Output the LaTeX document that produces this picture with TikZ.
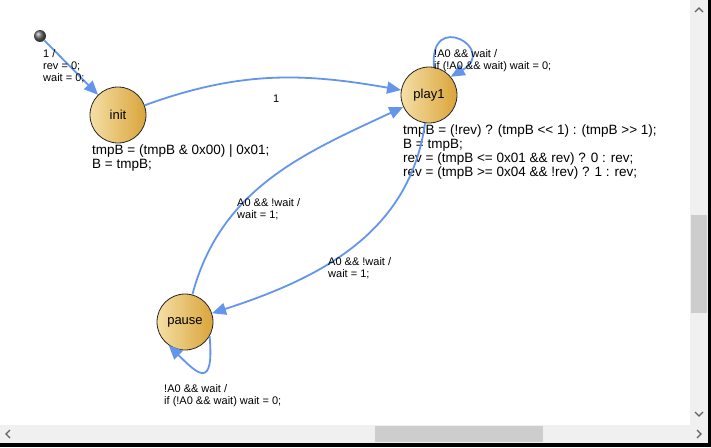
\documentclass[tikz,border=0pt]{standalone}
\usepackage{fontspec}
\setmainfont{Liberation Sans}[Ligatures=TeXOff]
\usetikzlibrary{arrows.meta,positioning,calc}
\definecolor{edgeblue}{HTML}{6495ED}
\definecolor{stategold}{HTML}{D9A43A}
\definecolor{statelight}{HTML}{F5DFA6}
\definecolor{scrolltrack}{HTML}{F0F0F0}
\definecolor{scrollthumb}{HTML}{CDCDCD}
\definecolor{scrollglyph}{HTML}{606060}

\begin{document}
\begin{tikzpicture}[x=1pt,y=1pt,
  statenode/.style={circle, draw=black!85, line width=0.8pt, minimum size=56pt, inner sep=0pt,
                    left color=statelight, right color=stategold, font=\fontsize{13}{15}\selectfont},
  startnode/.style={circle, inner sep=0pt, minimum size=12pt, ball color=black!60},
  code/.style={anchor=base west, inner sep=0pt, align=left, font=\fontsize{13.5}{14.3}\selectfont},
  lbl/.style={anchor=base west, inner sep=0pt, align=left, font=\fontsize{11}{12}\selectfont},
  arr/.style={-{Triangle[length=14pt,width=12pt]}, line width=1.8pt, draw=edgeblue},
  glyph/.style={draw=scrollglyph, line width=1.1pt}
]
  \useasboundingbox (0,0) rectangle (711,-447);

  % states
  \node[startnode] (start) at (40,-36) {};
  \node[statenode] (init) at (118,-115) {init};
  \node[statenode] (play1) at (429,-95) {play1};
  \node[statenode] (pause) at (185,-322) {pause};

  % state actions (placed at the baseline of the last line)
  \node[code] (initact) at (92,-168.3) {tmpB = (tmpB \& 0x00) | 0x01;\\B = tmpB;};
  \node[code] (playact) at (403,-176.9) {tmpB = (!rev) ? (tmpB <\kern0pt< 1) : (tmpB >\kern0pt> 1);\\B = tmpB;\\
    rev = (tmpB <= 0x01 \&\& rev) ? 0 : rev;\\rev = (tmpB >= 0x04 \&\& !rev) ? 1 : rev;};

  % transitions
  \draw[arr] (start) -- (init);
  \draw[arr] (init) to[out=20,in=170] (play1);
  \draw[arr] (pause) to[out=75,in=205] (play1);
  \draw[arr] (play1) to[out=262,in=18] (pause);
  \draw[arr] (play1.80) .. controls +(95:58) and +(30:55) .. (play1.40);
  \draw[arr] (pause.-30) .. controls +(-85:55) and +(-45:40) .. (pause.235);

  % transition labels
  \node[lbl] (startlbl) at (43,-81) {1 /\\rev = 0;\\wait = 0;};
  \node[lbl] (onelbl) at (273,-102) {1};
  \node[lbl] (playloop) at (434,-69) {!A0 \&\& wait /\\if (!A0 \&\& wait) wait = 0;};
  \node[lbl] (toplay) at (237,-218) {A0 \&\& !wait /\\wait = 1;};
  \node[lbl] (topause) at (328,-277) {A0 \&\& !wait /\\wait = 1;};
  \node[lbl] (pauseloop) at (164,-404) {!A0 \&\& wait /\\if (!A0 \&\& wait) wait = 0;};

  % scroll bars
  \fill[scrolltrack] (690,0) rectangle (708,-425);
  \fill[scrolltrack] (0,-425) rectangle (708,-443);
  \fill[scrollthumb] (691,-215) rectangle (707,-313);
  \fill[scrollthumb] (375,-426) rectangle (543,-442);
  \fill[black] (708,0) rectangle (711,-447);
  \fill[black] (0,-443) rectangle (711,-447);
  \draw[glyph] (695,-12) -- (699,-8) -- (703,-12);
  \draw[glyph] (695,-412) -- (699,-416) -- (703,-412);
  \draw[glyph] (10,-430) -- (6,-434) -- (10,-438);
  \draw[glyph] (697,-430) -- (701,-434) -- (697,-438);
\end{tikzpicture}
\end{document}
